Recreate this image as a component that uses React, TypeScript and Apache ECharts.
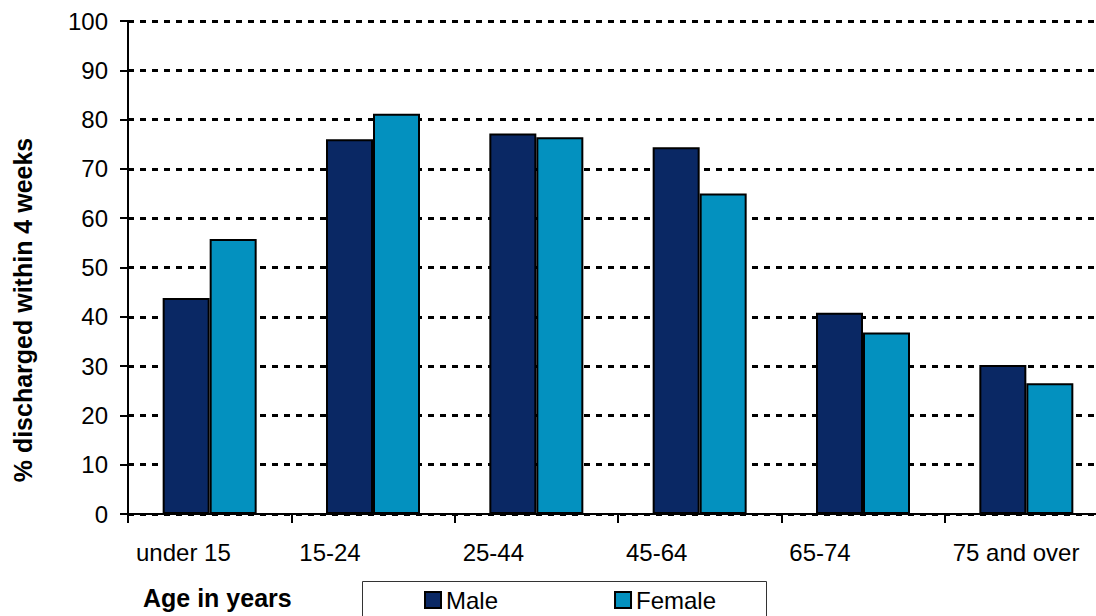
import React, { useEffect, useRef } from "react";
import * as echarts from "echarts";

const categories = ["under 15", "15-24", "25-44", "45-64", "65-74", "75 and over"];
const maleValues = [43.8, 76.0, 77.2, 74.4, 40.8, 30.2];
const femaleValues = [55.8, 81.2, 76.4, 65.0, 36.8, 26.5];
const yTicks = { min: 0, max: 100, interval: 10 };
const yTitle = "% discharged within 4 weeks";
const xTitle = "Age in years";
const seriesNames = ["Male", "Female"];

const MALE_COLOR = "#0A2864";
const FEMALE_COLOR = "#0391BF";
const FONT = "Arial, 'Liberation Sans', sans-serif";

export default function App() {
  const ref = useRef<HTMLDivElement>(null);

  useEffect(() => {
    if (!ref.current) return;
    const chart = echarts.init(ref.current, undefined, { renderer: "svg" });
    chart.setOption({
      animation: false,
      backgroundColor: "#ffffff",
      textStyle: { fontFamily: FONT, color: "#000" },
      grid: { left: 128, top: 21, width: 980, height: 493, containLabel: false },
      legend: {
        data: seriesNames,
        left: 419,
        top: 583,
        itemWidth: 16,
        itemHeight: 16,
        itemGap: 116,
        icon: "rect",
        textStyle: { fontFamily: FONT, fontSize: 24, color: "#000" },
      },
      xAxis: [
        {
          type: "category",
          data: categories,
          boundaryGap: true,
          axisLine: { show: true, lineStyle: { color: "#000", width: 2 } },
          axisTick: { show: true, interval: 0, alignWithLabel: false, length: 9, lineStyle: { color: "#000", width: 2 } },
          axisLabel: { show: false },
          splitLine: { show: false },
        },
        {
          type: "value",
          position: "bottom",
          min: 0,
          max: categories.length,
          interval: 1,
          axisLine: { show: false },
          axisTick: { show: false },
          splitLine: { show: false },
          axisLabel: {
            show: true,
            margin: 26,
            align: "left",
            padding: [0, 0, 0, 8],
            fontFamily: FONT,
            fontSize: 24,
            color: "#000",
            formatter: (v: number) => (categories[v] !== undefined ? categories[v] : ""),
          },
        },
      ],
      yAxis: {
        type: "value",
        min: yTicks.min,
        max: yTicks.max,
        interval: yTicks.interval,
        axisLine: { show: true, lineStyle: { color: "#000", width: 2 } },
        axisTick: { show: true, inside: false, length: 8, lineStyle: { color: "#000", width: 2 } },
        axisLabel: { margin: 20, fontFamily: FONT, fontSize: 24, color: "#000" },
        splitLine: { show: true, lineStyle: { color: "#000", width: 3, type: [6, 6] } },
      },
      graphic: [
        {
          type: "text",
          x: 23,
          y: 310,
          rotation: Math.PI / 2,
          style: {
            text: yTitle,
            font: `bold 25px ${FONT}`,
            fill: "#000",
            align: "center",
            verticalAlign: "middle",
          },
        },
        {
          type: "text",
          x: 143,
          y: 598,
          style: {
            text: xTitle,
            font: `bold 25px ${FONT}`,
            fill: "#000",
            align: "left",
            verticalAlign: "middle",
          },
        },
        {
          type: "rect",
          shape: { x: 362.5, y: 581.5, width: 404, height: 50 },
          style: { fill: "none", stroke: "#333", lineWidth: 1 },
          z: 10,
        },
      ],
      series: [
        {
          name: seriesNames[0],
          type: "bar",
          xAxisIndex: 0,
          data: maleValues,
          barWidth: 47,
          barGap: "0%",
          itemStyle: { color: MALE_COLOR, borderColor: "#000", borderWidth: 2 },
        },
        {
          name: seriesNames[1],
          type: "bar",
          xAxisIndex: 0,
          data: femaleValues,
          barWidth: 47,
          barGap: "0%",
          itemStyle: { color: FEMALE_COLOR, borderColor: "#000", borderWidth: 2 },
        },
      ],
    });
    return () => chart.dispose();
  }, []);

  return (
    <div
      style={{ position: "fixed", left: 0, top: 0, width: 1096, height: 616, overflow: "hidden", background: "#fff" }}
    >
      <div ref={ref} style={{ width: 1120, height: 616 }} />
    </div>
  );
}
